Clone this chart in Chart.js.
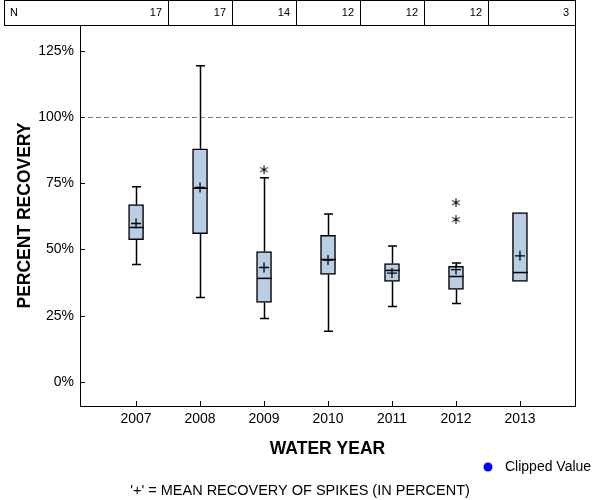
<!DOCTYPE html>
<html>
<head>
<meta charset="utf-8">
<title>Percent recovery by water year</title>
<script src="https://cdn.jsdelivr.net/npm/chart.js@4.4.1/dist/chart.umd.min.js"></script>
<style>
  html, body { margin: 0; padding: 0; background: #fff; }
  canvas { display: block; }
</style>
</head>
<body>
<canvas id="chart" width="600" height="500"></canvas>
<script>
// 数据 - 每年的箱线图统计值（百分比）
const years = [2007, 2008, 2009, 2010, 2011, 2012, 2013];
const nCounts = [17, 17, 14, 12, 12, 12, 3];
const whiskerLow = [44.3, 31.9, 24.0, 19.1, 28.5, 29.6, null];
const q1 = [53.7, 56.0, 30.0, 40.6, 37.9, 34.9, 37.9];
const medians = [58.3, 73.1, 39.1, 46.2, 42.1, 39.8, 41.3];
const q3 = [66.9, 88.0, 49.2, 55.3, 44.7, 43.6, 63.9];
const whiskerHigh = [73.7, 119.3, 77.1, 63.4, 51.3, 44.9, null];
const means = [59.8, 73.4, 43.2, 46.0, 41.1, 42.4, 47.6];
const outlierYears = [2009, 2012, 2012];
const outlierValues = [80.1, 67.7, 61.3];
const yTickValues = [0, 25, 50, 75, 100, 125];
const referenceValue = 100;

const FONT = '"Liberation Sans", Arial, Helvetica, sans-serif';
const BOX_FILL = '#b9cde5';

/**
 * 生成星号点样式（六臂）
 */
function makeAsterisk() {
  const c = document.createElement('canvas');
  c.width = 11;
  c.height = 11;
  const g = c.getContext('2d');
  g.strokeStyle = '#000';
  g.lineWidth = 1;
  const r = 4.5, cx = 5.5, cy = 5.5;
  g.beginPath();
  [90, 30, 150].forEach(deg => {
    const a = deg * Math.PI / 180;
    g.moveTo(cx - r * Math.cos(a), cy - r * Math.sin(a));
    g.lineTo(cx + r * Math.cos(a), cy + r * Math.sin(a));
  });
  g.stroke();
  g.fillStyle = '#000';
  g.fillRect(4.5, 4.5, 2, 2);
  return c;
}

/**
 * 附加绘制：参考线、须线、中位线、边框、N 表格、图例
 */
const boxExtras = {
  id: 'boxExtras',
  beforeDatasetsDraw(chart) {
    const { ctx, chartArea, scales: { x, y } } = chart;
    ctx.save();

    // 100% 参考虚线
    const ry = Math.round(y.getPixelForValue(referenceValue)) + 0.5;
    ctx.strokeStyle = '#808080';
    ctx.lineWidth = 1;
    ctx.setLineDash([5, 3]);
    ctx.beginPath();
    ctx.moveTo(chartArea.left, ry);
    ctx.lineTo(chartArea.right, ry);
    ctx.stroke();
    ctx.setLineDash([]);

    // 须线和端帽
    ctx.strokeStyle = '#000';
    ctx.lineWidth = 1.5;
    years.forEach((yr, i) => {
      if (whiskerLow[i] == null) return;
      const px = Math.round(x.getPixelForValue(yr)) + 0.5;
      const pairs = [[q1[i], whiskerLow[i]], [q3[i], whiskerHigh[i]]];
      pairs.forEach(([from, to]) => {
        const y1 = y.getPixelForValue(from);
        const y2 = y.getPixelForValue(to);
        ctx.beginPath();
        ctx.moveTo(px, y1);
        ctx.lineTo(px, y2);
        ctx.moveTo(px - 4.5, y2);
        ctx.lineTo(px + 4.5, y2);
        ctx.stroke();
      });
    });
    ctx.restore();
  },
  afterDatasetsDraw(chart) {
    const { ctx, chartArea, scales: { x, y } } = chart;
    ctx.save();

    // 中位线
    ctx.strokeStyle = '#000';
    ctx.lineWidth = 1.5;
    years.forEach((yr, i) => {
      const px = Math.round(x.getPixelForValue(yr)) + 0.5;
      const py = y.getPixelForValue(medians[i]);
      ctx.beginPath();
      ctx.moveTo(px - 7.5, py);
      ctx.lineTo(px + 7.5, py);
      ctx.stroke();
    });

    // 右边框
    ctx.lineWidth = 1;
    ctx.beginPath();
    ctx.moveTo(chartArea.right + 0.5, chartArea.top);
    ctx.lineTo(chartArea.right + 0.5, chartArea.bottom + 0.5);
    ctx.stroke();

    // 向内的刻度线
    ctx.beginPath();
    years.forEach(yr => {
      const px = Math.round(x.getPixelForValue(yr)) + 0.5;
      ctx.moveTo(px, chartArea.bottom);
      ctx.lineTo(px, chartArea.bottom - 5);
    });
    yTickValues.forEach(v => {
      const py = Math.round(y.getPixelForValue(v)) + 0.5;
      ctx.moveTo(chartArea.left, py);
      ctx.lineTo(chartArea.left + 5, py);
    });
    ctx.stroke();

    // 顶部 N 表格
    const top = 0.5;
    const bottom = chartArea.top + 0.5;
    const tableLeft = 4.5;
    const tableRight = chartArea.right + 0.5;
    ctx.strokeRect(tableLeft, top, tableRight - tableLeft, bottom - top);
    const edges = [tableLeft];
    for (let i = 0; i < years.length - 1; i++) {
      edges.push(Math.round(x.getPixelForValue(years[i] + 0.5)) + 0.5);
    }
    edges.push(tableRight);
    ctx.beginPath();
    edges.slice(1, -1).forEach(ex => {
      ctx.moveTo(ex, top);
      ctx.lineTo(ex, bottom);
    });
    ctx.stroke();

    ctx.fillStyle = '#000';
    ctx.font = '11px ' + FONT;
    ctx.textBaseline = 'middle';
    ctx.textAlign = 'left';
    ctx.fillText('N', 10, 13);
    ctx.textAlign = 'right';
    nCounts.forEach((n, i) => {
      ctx.fillText(String(n), edges[i + 1] - 6.5, 13);
    });

    // 图例
    ctx.fillStyle = '#0000ff';
    ctx.beginPath();
    ctx.arc(488, 467, 4.5, 0, Math.PI * 2);
    ctx.fill();
    ctx.fillStyle = '#000';
    ctx.font = '14px ' + FONT;
    ctx.textAlign = 'left';
    ctx.fillText('Clipped Value', 505, 467);

    ctx.restore();
  }
};

const ctx = document.getElementById('chart');

new Chart(ctx, {
  type: 'bar',
  data: {
    datasets: [
      {
        type: 'scatter',
        label: 'Mean',
        data: years.map((yr, i) => ({ x: yr, y: means[i] })),
        pointStyle: 'cross',
        pointRadius: 5,
        borderColor: '#000',
        borderWidth: 1.3,
        order: 1
      },
      {
        type: 'scatter',
        label: 'Outlier',
        data: outlierYears.map((yr, i) => ({ x: yr, y: outlierValues[i] })),
        pointStyle: makeAsterisk(),
        order: 1
      },
      {
        type: 'bar',
        label: 'IQR',
        data: years.map((yr, i) => ({ x: yr, y: [q1[i], q3[i]] })),
        backgroundColor: BOX_FILL,
        borderColor: '#000',
        borderWidth: 1.5,
        borderSkipped: false,
        barThickness: 15,
        order: 2
      }
    ]
  },
  plugins: [boxExtras],
  options: {
    responsive: false,
    animation: false,
    devicePixelRatio: 1,
    layout: {
      padding: { top: 25, right: 0, bottom: 0, left: 0 }
    },
    plugins: {
      legend: { display: false },
      tooltip: { enabled: false },
      title: {
        display: true,
        position: 'bottom',
        text: "'+' = MEAN RECOVERY OF SPIKES (IN PERCENT)",
        color: '#000',
        font: { family: FONT, size: 14.5, weight: 'normal', lineHeight: 1.2 },
        padding: { top: 20, bottom: 0 }
      }
    },
    scales: {
      x: {
        type: 'linear',
        offset: false,
        min: 2006.124,
        max: 2013.86,
        afterBuildTicks: scale => {
          scale.ticks = years.map(v => ({ value: v }));
        },
        afterFit: scale => {
          scale.height = 56.6;
        },
        ticks: {
          autoSkip: false,
          maxRotation: 0,
          padding: 5,
          color: '#000',
          font: { family: FONT, size: 14 },
          callback: v => String(v)
        },
        grid: { display: true, drawOnChartArea: false, drawTicks: false },
        border: { display: true, color: '#000', width: 1 },
        title: {
          display: true,
          text: 'WATER YEAR',
          color: '#000',
          font: { family: FONT, size: 17.5, weight: 'bold', lineHeight: 1.2 },
          padding: { top: 0, bottom: 3 }
        }
      },
      y: {
        type: 'linear',
        min: -9.06,
        max: 134.7,
        afterBuildTicks: scale => {
          scale.ticks = yTickValues.map(v => ({ value: v }));
        },
        afterFit: scale => {
          scale.width = 80;
        },
        ticks: {
          padding: 6,
          color: '#000',
          font: { family: FONT, size: 14 },
          callback: v => v + '%'
        },
        grid: { display: true, drawOnChartArea: false, drawTicks: false },
        border: { display: true, color: '#000', width: 1 },
        title: {
          display: true,
          text: 'PERCENT RECOVERY',
          color: '#000',
          font: { family: FONT, size: 17.5, weight: 'bold', lineHeight: 1.2 },
          padding: { top: 15, bottom: 0 }
        }
      },
      // 右侧占位轴，只用来留出右边空白
      yRight: {
        type: 'linear',
        position: 'right',
        min: -9.06,
        max: 134.7,
        afterFit: scale => {
          scale.width = 25;
        },
        ticks: { display: false },
        grid: { display: false },
        border: { display: false }
      }
    }
  }
});
</script>
</body>
</html>
